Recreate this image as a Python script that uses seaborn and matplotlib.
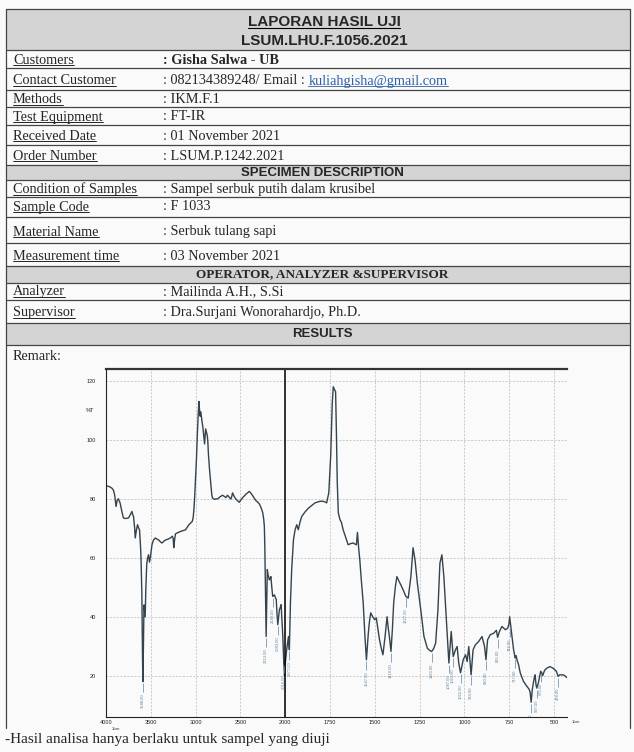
import numpy as np
import pandas as pd
import matplotlib
matplotlib.use("Agg")
import matplotlib.pyplot as plt
from matplotlib.patches import Rectangle
from matplotlib.ticker import FixedLocator
import seaborn as sns

##################################################################
# Values
##################################################################
report_title = "LAPORAN HASIL UJI"
report_code = "LSUM.LHU.F.1056.2021"

customer_labels = ["Customers", "Contact Customer", "Methods", "Test Equipment",
                   "Received Date", "Order Number"]
customer_values = [": Gisha Salwa - UB", ": 082134389248/ Email : ", ": IKM.F.1", ": FT-IR",
                   ": 01 November 2021", ": LSUM.P.1242.2021"]
customer_email = "kuliahgisha@gmail.com"

specimen_labels = ["Condition of Samples", "Sample Code", "Material Name", "Measurement time"]
specimen_values = [": Sampel serbuk putih dalam krusibel", ": F 1033", ": Serbuk tulang sapi",
                   ": 03 November 2021"]

staff_labels = ["Analyzer", "Supervisor"]
staff_values = [": Mailinda A.H., S.Si", ": Dra.Surjani Wonorahardjo, Ph.D."]

section_titles = ["SPECIMEN DESCRIPTION", "OPERATOR, ANALYZER &SUPERVISOR", "RESULTS"]
remark_text = "Remark:"
footer_text = "-Hasil analisa hanya berlaku untuk sampel yang diuji"

# FT-IR spectrum (wavenumber in 1/cm, %T)
wavenumber = [4000, 3970, 3955, 3935, 3918, 3905, 3899, 3888, 3875, 3862, 3843, 3825, 3806, 3780,
              3749, 3725, 3711, 3700, 3693, 3680, 3674, 3660, 3648, 3635, 3626, 3615, 3610, 3600,
              3592, 3588, 3582, 3576, 3570, 3563, 3555, 3545, 3535, 3525, 3515, 3505, 3487, 3470,
              3450, 3430, 3412, 3390, 3375, 3355, 3337, 3310, 3281, 3260, 3250, 3244, 3235, 3225,
              3200, 3169, 3140, 3112, 3090, 3075, 3055, 3038, 3028, 3019, 3010, 3000, 2990, 2982,
              2972, 2963, 2956, 2950, 2945, 2940, 2930, 2918, 2908, 2900, 2894, 2888, 2878, 2869,
              2863, 2858, 2845, 2832, 2820, 2813, 2790, 2770, 2757, 2730, 2700, 2680, 2663, 2644,
              2625, 2606, 2595, 2588, 2570, 2551, 2530, 2513, 2495, 2475, 2455, 2438, 2420, 2401,
              2380, 2363, 2345, 2326, 2305, 2288, 2270, 2251, 2240, 2233, 2228, 2225, 2218, 2213,
              2206, 2200, 2190, 2177, 2168, 2160, 2150, 2140, 2130, 2120, 2110, 2100, 2092, 2083,
              2074, 2065, 2055, 2046, 2037, 2027, 2016, 2008, 2000, 1992, 1982, 1977, 1971, 1964,
              1954, 1945, 1936, 1927, 1918, 1908, 1890, 1871, 1850, 1834, 1815, 1797, 1780, 1769,
              1757, 1746, 1738, 1732, 1725, 1719, 1714, 1710, 1704, 1695, 1686, 1677, 1668, 1658,
              1649, 1635, 1621, 1610, 1603, 1597, 1590, 1584, 1575, 1565, 1555, 1547, 1537, 1530,
              1523, 1512, 1501, 1492, 1483, 1474, 1465, 1455, 1443, 1432, 1425, 1419, 1410, 1402,
              1395, 1386, 1377, 1365, 1355, 1340, 1327, 1314, 1299, 1287, 1276, 1263, 1244, 1226,
              1207, 1195, 1183, 1172, 1161, 1148, 1137, 1126, 1115, 1101, 1087, 1074, 1063, 1050,
              1041, 1032, 1022, 1007, 994, 985, 976, 963, 952, 939, 921, 902, 888, 880, 871, 856,
              837, 822, 815, 805, 791, 772, 759, 752, 748, 740, 735, 726, 717, 712, 707, 698, 689,
              671, 652, 640, 634, 628, 622, 619, 610, 606, 601, 597, 588, 575, 569, 564, 553, 542,
              523, 505, 487, 478, 469, 450, 440, 430]
transmittance = [84.4, 84.2, 84.0, 83.6, 83.0, 81.5, 80.3, 77.4, 79.5, 80.0, 78.6, 76.0, 73.5, 73.3,
                 73.5, 74.8, 75.7, 74.5, 74.0, 70.0, 66.7, 69.5, 71.2, 70.0, 69.5, 64.0, 60.5, 48.0,
                 25.0, 18.0, 30.0, 44.0, 42.0, 40.0, 50.0, 58.0, 60.0, 61.0, 58.5, 60.0, 64.4, 66.0,
                 66.7, 66.3, 66.0, 65.3, 65.0, 65.6, 66.0, 66.3, 66.7, 67.3, 66.5, 63.4, 66.0, 68.1,
                 68.5, 68.9, 69.2, 69.5, 70.5, 71.2, 71.8, 72.3, 73.5, 76.3, 81.0, 87.6, 94.0, 101.0,
                 108.0, 113.0, 110.0, 108.0, 109.5, 109.0, 106.5, 104.0, 101.0, 98.6, 101.0, 103.7, 102.5, 101.3,
                 99.0, 95.6, 90.0, 85.4, 81.5, 80.3, 79.8, 80.0, 79.9, 80.6, 81.2, 80.8, 80.4, 81.2,
                 80.5, 79.9, 81.0, 82.0, 80.8, 79.9, 79.3, 78.8, 79.6, 80.4, 81.0, 81.6, 82.0, 82.5,
                 81.8, 81.0, 80.2, 79.3, 78.8, 78.2, 77.0, 75.3, 73.0, 70.6, 64.0, 58.2, 45.0, 33.3,
                 45.0, 56.0, 54.0, 52.5, 53.0, 53.6, 50.0, 46.9, 47.2, 47.4, 46.5, 45.8, 41.0, 37.3,
                 40.0, 42.4, 43.2, 44.1, 39.0, 33.3, 24.3, 20.0, 24.0, 28.8, 33.3, 28.8, 44.7, 56.0,
                 66.2, 69.5, 71.2, 69.5, 72.0, 74.0, 75.5, 76.8, 77.8, 78.6, 79.0, 79.2, 79.0, 78.6,
                 82.0, 95.0, 112.0, 118.0, 117.0, 116.3, 101.0, 86.0, 75.3, 73.0, 71.9, 69.5, 67.9, 66.0,
                 64.4, 64.8, 65.0, 64.6, 64.4, 68.6, 63.0, 59.3, 52.0, 44.7, 33.0, 25.4, 34.0, 38.5,
                 41.3, 40.0, 39.0, 39.6, 36.0, 32.2, 29.5, 27.1, 33.3, 40.0, 36.0, 33.3, 28.2, 36.0,
                 44.6, 50.0, 53.6, 52.0, 50.8, 48.8, 46.9, 46.3, 53.6, 63.4, 59.3, 51.5, 42.4, 33.3,
                 29.3, 28.6, 28.2, 29.2, 31.0, 42.4, 58.2, 61.0, 53.6, 39.0, 24.3, 35.0, 26.5, 28.8,
                 29.9, 24.3, 21.0, 25.4, 27.1, 24.8, 29.9, 20.3, 28.8, 30.5, 31.6, 33.3, 29.9, 25.4, 32.2, 33.9,
                 34.4, 35.4, 33.0, 35.0, 36.7, 35.6, 36.1, 37.5, 40.0, 36.0, 33.3, 28.8, 26.0, 26.8, 25.4, 23.7, 21.0,
                 18.1, 16.4, 15.5, 14.5, 11.0, 15.0, 16.4, 19.5, 20.3, 17.0, 15.8, 17.5, 21.5, 21.0, 20.0, 21.8, 22.5,
                 23.1, 22.5, 21.5, 19.8, 20.3, 20.3, 20.0, 19.4]

# labelled peaks
peak_wavenumber = [3588, 2213, 2140, 2083, 2016, 1977, 1547, 1410, 1327, 1183, 1087, 1063,
                   1022, 963, 880, 815, 748, 717, 628, 597, 575, 478]
peak_transmittance = [18.0, 33.3, 46.9, 37.3, 24.3, 28.8, 25.4, 28.2, 46.9, 28.2, 24.3, 26.5,
                      21.0, 20.3, 25.4, 33.0, 36.5, 26.0, 11.0, 15.8, 21.5, 19.8]

x_ticks = [4000, 3500, 3000, 2500, 2000, 1750, 1500, 1250, 1000, 750, 500]
y_ticks = [20, 40, 60, 80, 100, 120]

spectrum = pd.DataFrame({"Wavenumber": wavenumber, "T": transmittance})

##################################################################
# Figure set up
##################################################################
sns.set_style("white")
plt.rcParams["font.family"] = ["Liberation Serif", "DejaVu Serif"]

W, H = 634, 752
fig = plt.figure(figsize=(W / 100, H / 100), dpi=100)
fig.patch.set_facecolor("#fafafa")

# page axes in pixel units
bg = fig.add_axes([0, 0, 1, 1])
bg.set_xlim(0, W)
bg.set_ylim(H, 0)
bg.axis("off")

band_color = "#d4d4d4"
line_color = "#444444"
x_left, x_right, x_value = 6, 630, 163

# gray bands: header, specimen, operator, results
for top, bottom in [(9, 50), (165, 180), (266, 283), (323, 345)]:
    bg.add_patch(Rectangle((x_left, top), x_right - x_left, bottom - top, fc=band_color, ec="none"))

# horizontal rules
for y in [9, 50, 68, 90, 107, 125, 145, 165, 180, 197, 217, 243, 266, 283, 300, 323, 345]:
    bg.plot([x_left, x_right], [y, y], color=line_color, lw=0.9)
# outer borders
bg.plot([x_left, x_left], [9, 728], color=line_color, lw=0.9)
bg.plot([x_right, x_right], [9, 728], color=line_color, lw=0.9)

fig.canvas.draw()
renderer = fig.canvas.get_renderer()
inv = bg.transData.inverted()


def underline(t, color="black", lw=0.6, drop=1.3):
    bb = t.get_window_extent(renderer)
    (x0, y0), (x1, y1) = inv.transform([[bb.x0, bb.y0], [bb.x1, bb.y1]])
    bg.plot([x0, x1], [y0 - drop, y0 - drop], color=color, lw=lw)
    return x1


# header
sans = ["Liberation Sans", "DejaVu Sans"]
t = bg.text(324, 22, report_title, family=sans, weight="bold", fontsize=11, ha="center", va="center")
underline(t, lw=0.8)
bg.text(324, 41, report_code, family=sans, weight="bold", fontsize=11, ha="center", va="center")

body_size = 10.3
label_y = {"customer": [60, 81, 99.5, 117, 136, 156],
           "specimen": [189, 207, 232, 256],
           "staff": [292, 312.5]}

for key, labels, values in [("customer", customer_labels, customer_values),
                            ("specimen", specimen_labels, specimen_values),
                            ("staff", staff_labels, staff_values)]:
    for i, (lab, val) in enumerate(zip(labels, values)):
        y = label_y[key][i]
        t = bg.text(13, y, lab, fontsize=body_size, va="center")
        underline(t)
        bold = (key == "customer" and i == 0)
        tv = bg.text(x_value, y, val, fontsize=body_size, va="center",
                     weight="bold" if bold else "normal")
        if key == "customer" and i == 1:
            bb = tv.get_window_extent(renderer)
            xe = inv.transform([[bb.x1, bb.y0]])[0][0]
            te = bg.text(xe, y, customer_email, fontsize=body_size, va="center", color="#2c5fa8")
            underline(te, color="#2c5fa8")

bg.text(322, 172.5, section_titles[0], family=sans, weight="bold", fontsize=9.5, ha="center", va="center")
bg.text(322, 274.5, section_titles[1], weight="bold", fontsize=9.5, ha="center", va="center")
bg.text(322, 334, section_titles[2], family=sans, weight="bold", fontsize=9.5, ha="center", va="center")
bg.text(13, 357, remark_text, fontsize=body_size, va="center")
bg.text(5, 740, footer_text, fontsize=11, va="center")

##################################################################
# FT-IR spectrum
##################################################################
ax = fig.add_axes([106 / W, 1 - 717 / H, (567 - 106) / W, (717 - 369) / H])
ax.patch.set_alpha(0)

sns.lineplot(data=spectrum, x="Wavenumber", y="T", ax=ax, sort=False, estimator=None,
             color="#34434d", lw=1.0)


def fwd(x):
    x = np.asarray(x, dtype=float)
    return np.where(x >= 2000, (x - 4000) / 500.0, (x - 2000) / 250.0 - 4)


def bwd(p):
    p = np.asarray(p, dtype=float)
    return np.where(p >= -4, 4000 + 500.0 * p, 2000 + 250.0 * (p + 4))


ax.set_xscale("function", functions=(fwd, bwd))
ax.set_xlim(4000, 428)
ax.set_ylim(6, 124)

minor_x = list(range(3900, 2000, -100)) + list(range(1950, 420, -50))
ax.xaxis.set_major_locator(FixedLocator(x_ticks))
ax.xaxis.set_minor_locator(FixedLocator(minor_x))
ax.set_xticklabels([str(v) for v in x_ticks])
ax.yaxis.set_major_locator(FixedLocator(y_ticks))
ax.yaxis.set_minor_locator(FixedLocator(list(range(8, 125, 4))))
ax.set_yticklabels([str(v) for v in y_ticks])

ax.tick_params(axis="x", which="major", direction="in", length=5, width=0.6, pad=2,
               labelsize=4, labelfontfamily="Liberation Sans")
ax.tick_params(axis="x", which="minor", direction="in", length=3, width=0.5)
ax.tick_params(axis="y", which="major", direction="out", length=4.5, width=0.6, pad=2.5,
               labelsize=4, labelfontfamily="Liberation Sans")
ax.tick_params(axis="y", which="minor", direction="out", length=2.4, width=0.5)
ax.text(-0.025, 110, "%T", transform=ax.get_yaxis_transform(), ha="right", va="center",
        fontsize=4, family="Liberation Sans")

ax.grid(True, which="major", color="#b8b8b8", lw=0.5, ls=(0, (3, 2)))
ax.axvline(2000, color="black", lw=1.1)

for side in ["left", "bottom"]:
    ax.spines[side].set_color("#222222")
    ax.spines[side].set_linewidth(0.8)
ax.spines["top"].set_color("#333333")
ax.spines["top"].set_linewidth(1.6)
ax.spines["right"].set_visible(False)
ax.set_xlabel("")
ax.set_ylabel("")

# peak labels
peak_color = "#5d84a2"
ax.vlines(peak_wavenumber, [t - 0.5 for t in peak_transmittance],
          [t - 3.5 for t in peak_transmittance], color=peak_color, lw=0.5)
for wn, tr in zip(peak_wavenumber, peak_transmittance):
    ax.text(wn, tr - 4, "{:.2f}".format(wn), rotation=90, fontsize=3, color=peak_color,
            ha="center", va="top", family="Liberation Sans", clip_on=True)

ax.text(0.012, -0.03, "1/cm", transform=ax.transAxes, fontsize=2.8, va="top", family="Liberation Sans")
ax.text(1.01, -0.01, "1/cm", transform=ax.transAxes, fontsize=2.8, va="top", family="Liberation Sans")

plt.savefig("out.png", dpi=100, facecolor=fig.get_facecolor())
